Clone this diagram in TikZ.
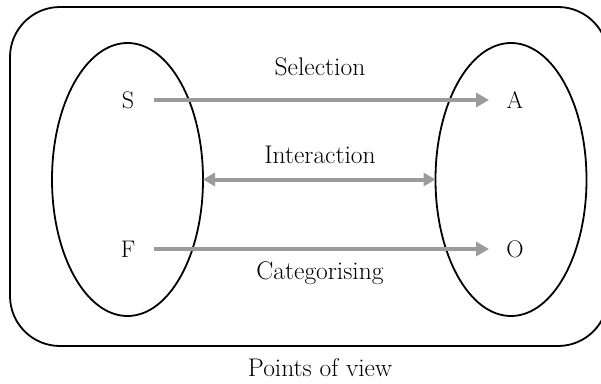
\documentclass[tikz,border=0pt]{standalone}
\usetikzlibrary{shapes.geometric,arrows.meta}
\definecolor{arrowgray}{RGB}{155,155,157}
\begin{document}
\begin{tikzpicture}[x=1pt,y=-1pt,
  outline/.style={draw=black,line width=1.8pt},
  oval/.style={outline,ellipse,inner sep=0pt,outer sep=0pt,minimum width=151pt,minimum height=273pt},
  letter/.style={inner sep=0pt,outer sep=0pt,minimum width=52pt,font=\fontsize{24}{28}\selectfont},
  label/.style={inner sep=0pt,font=\fontsize{25.5}{30}\selectfont},
  flow/.style={draw=arrowgray,line width=4.5pt,-{Triangle[length=13pt,width=14pt]}},
  both/.style={draw=arrowgray,line width=4pt,{Triangle[length=12pt,width=13pt]}-{Triangle[length=12pt,width=13pt]}}
]
\useasboundingbox (0,0) rectangle (601,383);
\clip (0,0) rectangle (601,383);
\draw[outline,rounded corners=50pt] (10,7) rectangle (608,346);
\node[oval] (L) at (127.5,179.5) {};
\node[oval] (R) at (511,179.5) {};
\node[letter] (S) at (128,100) {S};
\node[letter] (A) at (515,100) {A};
\node[letter] (F) at (128,249) {F};
\node[letter] (O) at (515,249) {O};
\draw[flow] (S.east) -- (A.west);
\draw[flow] (F.east) -- (O.west);
\draw[both] (L.east) -- (R.west);
\node[label] (sel) at (320,67) {Selection};
\node[label] (int) at (320,155) {Interaction};
\node[label] (cat) at (320,273) {Categorising};
\node[label] (pov) at (320,368) {Points of view};
\end{tikzpicture}
\end{document}
